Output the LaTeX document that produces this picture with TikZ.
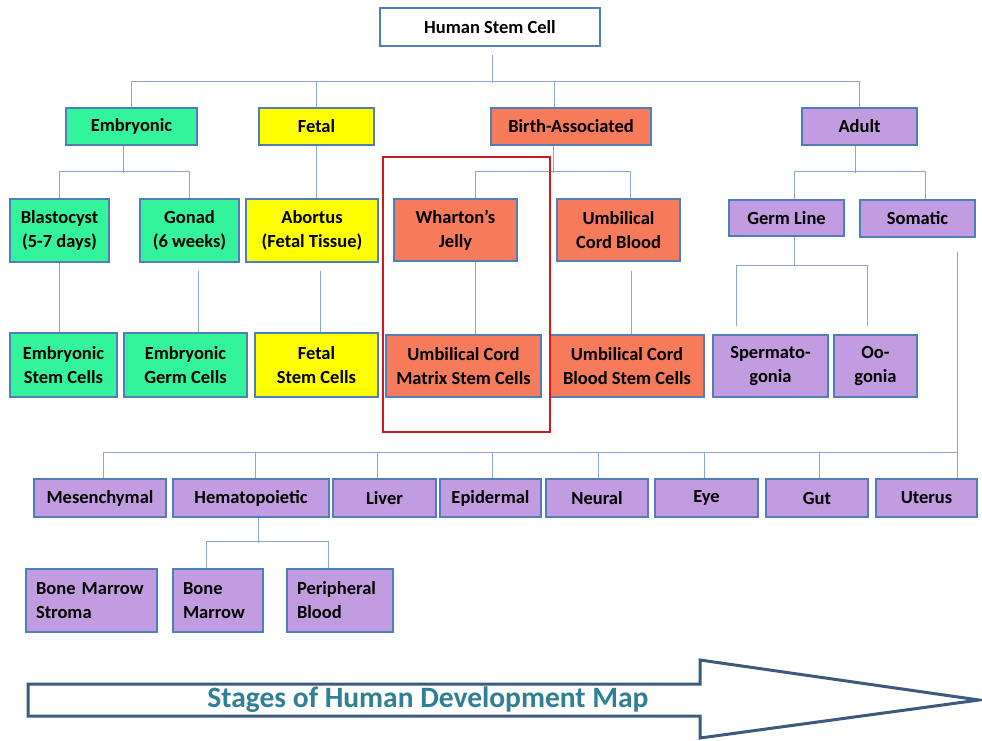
\documentclass[tikz,border=0pt]{standalone}
\usepackage{fontspec}
\setmainfont{Carlito}
\definecolor{CGreen}{HTML}{33F39B}
\definecolor{CYellow}{HTML}{FFFF00}
\definecolor{COrange}{HTML}{F57B5B}
\definecolor{CPurple}{HTML}{C29CE0}
\definecolor{BBlue}{HTML}{4F7EBB}
\definecolor{LBlue}{HTML}{8AA6CA}
\definecolor{DTeal}{HTML}{2F7F95}
\definecolor{ARim}{HTML}{3A5A7E}
\definecolor{HRed}{HTML}{D0191E}
\tikzset{
  cell/.style={draw=BBlue, line width=1.6pt, align=center, inner sep=2pt,
    font=\bfseries\fontsize{18.5}{24}\selectfont},
  green cell/.style={cell, fill=CGreen},
  yellow cell/.style={cell, fill=CYellow},
  orange cell/.style={cell, fill=COrange},
  purple cell/.style={cell, fill=CPurple},
  left cell/.style={purple cell, align=left, inner xsep=10pt, text width=#1},
  link/.style={draw=LBlue, line width=1pt},
}

\begin{document}
\begin{tikzpicture}[x=1pt, y=-1pt]
\useasboundingbox (0,0) rectangle (982,740);

% root and first level
\node[cell, fill=white, minimum width=220, minimum height=38] (hsc) at (490,27) {Human Stem Cell};
\node[green cell, minimum width=131, minimum height=37] (emb) at (131.5,126.5) {Embryonic};
\node[yellow cell, minimum width=115, minimum height=37] (fetal) at (316.5,126.5) {Fetal};
\node[orange cell, minimum width=160, minimum height=37] (birth) at (571,126.5) {Birth-Associated};
\node[purple cell, minimum width=115, minimum height=37] (adult) at (859.5,126.5) {Adult};

% second level
\node[green cell, minimum width=99, minimum height=63] (blast) at (59.5,230.5) {Blastocyst\\(5-7 days)};
\node[green cell, minimum width=99, minimum height=63] (gonad) at (189.5,230.5) {Gonad\\(6 weeks)};
\node[yellow cell, minimum width=132, minimum height=63] (abort) at (312,230.5) {Abortus\\(Fetal Tissue)};
\node[orange cell, minimum width=123, minimum height=62] (whart) at (455.5,230) {Wharton’s\\Jelly};
\node[orange cell, minimum width=123, minimum height=62] (ucb) at (618.5,230) {Umbilical\\Cord Blood};
\node[purple cell, minimum width=115, minimum height=36] (germ) at (786.5,218) {Germ Line};
\node[purple cell, minimum width=115, minimum height=37] (soma) at (917.5,218.5) {Somatic};

% third level
\node[green cell, minimum width=107, minimum height=64] (esc) at (63.5,365) {Embryonic\\Stem Cells};
\node[green cell, minimum width=123, minimum height=64] (egc) at (185.5,365) {Embryonic\\Germ Cells};
\node[yellow cell, minimum width=123, minimum height=64] (fsc) at (316.5,365) {Fetal\\Stem Cells};
\node[orange cell, minimum width=155, minimum height=62] (ucmsc) at (463.5,366) {Umbilical Cord\\Matrix Stem Cells};
\node[orange cell, minimum width=154, minimum height=62] (ucbsc) at (627,366) {Umbilical Cord\\Blood Stem Cells};
\node[purple cell, minimum width=115, minimum height=62] (sperm) at (770.5,366) {Spermato-\\gonia};
\node[purple cell, minimum width=83, minimum height=62] (oog) at (875.5,366) {Oo-\\gonia};

% somatic tissues
\node[purple cell, minimum width=132, minimum height=38] (mes) at (100,498) {Mesenchymal};
\node[purple cell, minimum width=156, minimum height=38] (hema) at (251,498) {Hematopoietic};
\node[purple cell, minimum width=103, minimum height=38] (liver) at (384.5,498) {Liver};
\node[purple cell, minimum width=101, minimum height=38] (epid) at (490.5,498) {Epidermal};
\node[purple cell, minimum width=102, minimum height=38] (neur) at (597,498) {Neural};
\node[purple cell, minimum width=103, minimum height=38] (eye) at (706.5,498) {Eye};
\node[purple cell, minimum width=102, minimum height=38] (gut) at (817,498) {Gut};
\node[purple cell, minimum width=101, minimum height=38] (uter) at (926.5,498) {Uterus};

% blood sources
\node[left cell=111pt, minimum height=63] (bms) at (91.5,600.5) {Bone Marrow\\Stroma};
\node[left cell=70pt, minimum height=63] (bm) at (218,600.5) {Bone\\Marrow};
\node[left cell=86pt, minimum height=63] (pb) at (340,600.5) {Peripheral\\Blood};

% connectors
\draw[link, shorten <=8pt] ([xshift=2pt]hsc.south) -- ++(0,36);
\draw[link] (emb.north) -- ++(0,-26) -| (adult.north);
\draw[link] (fetal.north) -- ++(0,-26);
\draw[link] ([xshift=-17pt]birth.north) -- ++(0,-26);

\draw[link] ([xshift=-8pt]emb.south) -- ++(0,27);
\draw[link] (blast.north) -- ++(0,-27) -| (gonad.north);
\draw[link] (fetal.south) -- (fetal.south |- abort.north);
\draw[link] ([xshift=-18pt]birth.south) -- ++(0,27);
\draw[link] ([xshift=20pt]whart.north) -- ++(0,-27) -| ([xshift=12pt]ucb.north);
\draw[link] ([xshift=-4pt]adult.south) -- ++(0,27);
\draw[link] ([xshift=8pt]germ.north) -- ++(0,-28) -| ([xshift=8pt]soma.north);

\draw[link] (blast.south) -- (blast.south |- esc.north);
\draw[link] ([xshift=12.5pt]egc.north) -- ++(0,-61);
\draw[link] ([xshift=3.5pt]fsc.north) -- ++(0,-61);
\draw[link] ([xshift=20pt]whart.south) -- ([xshift=20pt]whart.south |- ucmsc.north);
\draw[link] ([xshift=4pt]ucbsc.north) -- ++(0,-63);
\draw[link] ([xshift=8pt]germ.south) -- ++(0,29) coordinate (gl-bus);
\draw[link] ([xshift=-34.5pt,yshift=8pt]sperm.north) |- (gl-bus) -| ([xshift=-8.5pt,yshift=8pt]oog.north);

\draw[link] ([xshift=30.5pt]uter.north) -- ++(0,-226);
\draw[link] ([xshift=3pt]mes.north) -- ++(0,-26) -| ([xshift=30.5pt]uter.north);
\foreach \n/\s in {hema/4, liver/-7, epid/1.5, neur/1, eye/-2.5, gut/2}
  \draw[link] ([xshift=\s pt]\n.north) -- ++(0,-26);

\draw[link] ([xshift=7pt]hema.south) -- ++(0,25);
\draw[link] ([xshift=-12pt]bm.north) -- ++(0,-27) -| ([xshift=-12pt]pb.north);

% highlight
\draw[HRed, line width=2.5pt] (383,157) rectangle (550,432);

% development arrow
\draw[ARim, line width=3pt, fill=white, line join=miter]
  (28,684) -- (700,684) -- (700,660) -- (979,700) -- (700,738) -- (700,716) -- (28,716) -- cycle;
\node[text=DTeal, font=\bfseries\fontsize{29.5}{34}\selectfont] (stages) at (428,700) {Stages of Human Development Map};
\end{tikzpicture}
\end{document}
